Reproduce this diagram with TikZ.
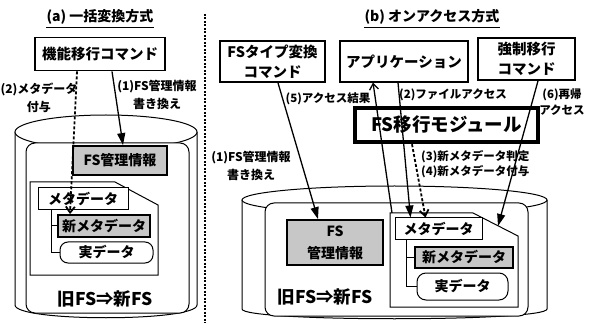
\documentclass[tikz,border=0pt]{standalone}
\usepackage{fontspec}
\setmainfont{Noto Sans CJK JP}
\usetikzlibrary{arrows.meta}
\newcommand{\fsz}[2]{\fontsize{#1}{#2}\selectfont}
\begin{document}
\begin{tikzpicture}[x=1pt,y=-1pt,
  every node/.style={inner sep=0pt},
  ttl/.style={font=\bfseries\fsz{14}{16}},
  cmdbox/.style={draw, line width=1.8pt, fill=white, align=center, font=\bfseries\fsz{14.5}{20}},
  appbox/.style={draw, line width=1.1pt, fill=white, align=center, font=\bfseries\fsz{14.5}{20}},
  modbox/.style={draw, line width=4.5pt, fill=white, font=\bfseries\fsz{18.5}{20}},
  graybox/.style={draw, line width=1.8pt, fill=black!22, align=center, font=\bfseries\fsz{14}{22}},
  databox/.style={draw, line width=1pt, fill=white, font=\bfseries\fsz{14}{16}},
  lbl/.style={font=\bfseries\fsz{12}{18}, align=center},
  bigtxt/.style={font=\bfseries\fsz{17.5}{20}},
  cyl/.style={line width=1pt},
  tree/.style={line width=1pt},
  solidarr/.style={line width=1.3pt, -{Triangle[length=12pt,width=8pt]}},
  openarr/.style={line width=1.3pt, -{Straight Barb[length=6pt,width=9pt]}},
  dasharr/.style={line width=1.8pt, dash pattern=on 3pt off 2pt, -{Straight Barb[length=6pt,width=9pt]}}]
\useasboundingbox (0,0) rectangle (589,323);

% divider
\draw[line width=1.5pt, dash pattern=on 2pt off 1.5pt] (205,14) -- (205,323);

% ---------------- (a) ----------------
\node[ttl] (tA) at (100,17) {(a) 一括変換方式};
\draw[line width=1pt] ([yshift=-2.5pt]tA.south west) -- ([yshift=-2.5pt]tA.south east);
\node[cmdbox, minimum width=130pt, minimum height=33pt] (cmdA) at (100,54) {機能移行コマンド};

% cylinder a
\draw[cyl] (15,132) -- (15,305) .. controls (15,322) and (197,322) .. (197,305) -- (197,132);
\draw[cyl, fill=white] (106,132) ellipse [x radius=91, y radius=17];
\draw[cyl, fill=white, rounded corners=9pt] (26,143) rectangle (189,313);

\node[graybox, minimum width=94pt, minimum height=29pt] (fsA) at (120,160.5) {FS管理情報};
\draw[line width=1pt, fill=white] (30,182) -- (115,182) -- (158,205) -- (158,275) -- (30,275) -- cycle;
\node[databox, minimum width=90pt, minimum height=22pt] (metaA) at (83,199) {メタデータ};
\node[graybox, font=\bfseries\fsz{14}{16}, minimum width=92pt, minimum height=22pt] (newA) at (104,226) {新メタデータ};
\node[databox, rounded corners=8pt, minimum width=93pt, minimum height=21pt] (rdA) at (106.5,252.5) {実データ};
\draw[tree] ([xshift=14pt]metaA.south west) |- (rdA.west);
\draw[tree] ([xshift=14pt]metaA.south west) |- (newA.west);
\node[bigtxt] (oldA) at (105,299) {旧FS⇒新FS};

\node[lbl] (lA2) at (39,97.5) {(2)メタデータ\\付与};
\node[lbl] (lA1) at (157,95) {(1)FS管理情報\\書き換え};

\draw[solidarr] ([xshift=12pt]cmdA.south) -- ([xshift=3pt]fsA.north);
\draw[dasharr] ([xshift=-23pt]cmdA.south) -- ([xshift=-34pt]newA.north);

% ---------------- (b) ----------------
\node[ttl] (tB) at (432,17) {(b) オンアクセス方式};
\draw[line width=1pt] ([yshift=-2.5pt]tB.south west) -- ([yshift=-2.5pt]tB.south east);

\node[cmdbox, minimum width=105pt, minimum height=41pt] (fsType) at (272.5,61.5) {FSタイプ変換\\コマンド};
\node[appbox, minimum width=128pt, minimum height=41pt] (app) at (404,61.5) {アプリケーション};
\node[cmdbox, minimum width=97pt, minimum height=42pt] (force) at (526.5,59) {強制移行\\コマンド};

% cylinder b
\draw[cyl] (242,200) -- (242,309) .. controls (242,322) and (547,322) .. (547,309) -- (547,200);
\draw[cyl, fill=white] (394.5,200) ellipse [x radius=152.5, y radius=14];
\draw[cyl, fill=white, rounded corners=9pt] (265,203) rectangle (528,316);

\node[graybox, minimum width=96pt, minimum height=45pt] (fsB) at (335,242.5) {FS\\管理情報};
\node[bigtxt] (oldB) at (325,297) {旧FS⇒新FS};

\draw[line width=1pt, fill=white] (390,213) -- (473,213) -- (518,236) -- (518,307) -- (390,307) -- cycle;
\coordinate (docBtl) at (390,213);
\coordinate (foldB) at (498,226);
\node[databox, minimum width=87pt, minimum height=22pt] (metaB) at (438.5,229) {メタデータ};
\node[graybox, font=\bfseries\fsz{14}{16}, minimum width=98pt, minimum height=21pt] (newB) at (464,257.5) {新メタデータ};
\node[databox, rounded corners=9pt, minimum width=91pt, minimum height=27pt] (rdB) at (462.5,286.5) {実データ};
\draw[tree] ([xshift=12pt]metaB.south west) |- (rdB.west);
\draw[tree] ([xshift=12pt]metaB.south west) |- (newB.west);

\node[modbox, minimum width=183pt, minimum height=34pt] (module) at (446.5,125) {FS移行モジュール};

\node[lbl] (lB1) at (251,166) {(1)FS管理情報\\書き換え};
\node[lbl, font=\bfseries\fsz{11.5}{18}] (lB5) at (328,99) {(5)アクセス結果};
\node[lbl, font=\bfseries\fsz{11.5}{18}] (lB2) at (453,95) {(2)ファイルアクセス};
\node[lbl, font=\bfseries\fsz{11.5}{16}] (lB6) at (562,102) {(6)再帰\\アクセス};
\node[lbl, font=\bfseries\fsz{11.5}{15}, align=left, anchor=west] (lB34) at (421,164.5) {(3)新メタデータ判定\\(4)新メタデータ付与};

\draw[solidarr] ([xshift=5.5pt]fsType.south) -- ([xshift=-17pt]fsB.north);
\draw[openarr] ([xshift=2pt]docBtl) -- ([xshift=-31pt]app.south);
\draw[solidarr] ([xshift=-6pt]app.south) -- ([xshift=-28pt]metaB.north);
\draw[dasharr] ([xshift=-34.5pt]module.south) -- ([xshift=-13pt]metaB.north);
\draw[solidarr] ([xshift=11.5pt]force.south) -- (foldB);
\end{tikzpicture}
\end{document}
